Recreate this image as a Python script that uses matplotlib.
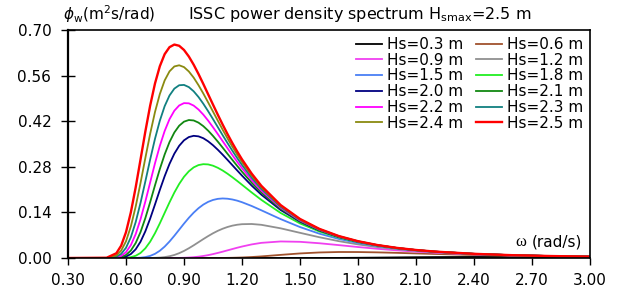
import matplotlib
matplotlib.use("Agg")
import matplotlib.pyplot as plt

plt.rcParams['font.family'] = ['DejaVu Sans']
plt.rcParams['mathtext.fontset'] = 'dejavusans'

omega = [0.30, 0.50, 0.55, 0.575, 0.60, 0.625, 0.65, 0.675, 0.70, 0.725, 0.75, 0.775,
         0.80, 0.825, 0.85, 0.875, 0.90, 0.925, 0.95, 0.975, 1.00, 1.025, 1.05, 1.075,
         1.10, 1.125, 1.15, 1.175, 1.20, 1.25, 1.30, 1.40, 1.50, 1.60, 1.70, 1.80,
         1.90, 2.00, 2.10, 2.20, 2.40, 2.60, 2.80, 3.00]

hs_labels = ["Hs=0.3 m", "Hs=0.6 m", "Hs=0.9 m", "Hs=1.2 m", "Hs=1.5 m", "Hs=1.8 m",
             "Hs=2.0 m", "Hs=2.1 m", "Hs=2.2 m", "Hs=2.3 m", "Hs=2.4 m", "Hs=2.5 m"]

s_03 = [0] * 33 + [0.0001, 0.0003, 0.0007, 0.0012, 0.0018, 0.0024, 0.0028, 0.0032,
                   0.0032, 0.0028, 0.0024]
s_06 = [0] * 23 + [0.0001, 0.0002, 0.0004, 0.0007, 0.0011, 0.0016,
                   0.0030, 0.0049, 0.0096, 0.0140, 0.0170, 0.0184, 0.0183, 0.0173,
                   0.0158, 0.0140, 0.0123, 0.0092, 0.0068, 0.0050, 0.0037]
s_09 = [0] * 14 + [0.0001, 0.0003, 0.0007, 0.0014, 0.0025, 0.0041, 0.0062, 0.0088,
                   0.0120, 0.0156, 0.0194, 0.0235, 0.0275, 0.0315, 0.0352,
                   0.0417, 0.0465, 0.0508, 0.0497, 0.0453, 0.0396, 0.0337, 0.0283,
                   0.0235, 0.0195, 0.0162, 0.0112, 0.0078, 0.0055, 0.0040]
s_12 = [0] * 10 + [0.0005, 0.0013, 0.0028, 0.0054, 0.0093, 0.0148, 0.0217, 0.0299,
                   0.0389, 0.0485, 0.0581, 0.0673, 0.0759, 0.0835, 0.0899, 0.0952,
                   0.0993, 0.1021, 0.1038,
                   0.1044, 0.1019, 0.0911, 0.0773, 0.0638, 0.0518, 0.0417, 0.0336,
                   0.0271, 0.0219, 0.0178, 0.0120, 0.0082, 0.0058, 0.0041]
s_15 = [0, 0, 0, 0, 0, 0, 0.0003, 0.0010, 0.0028, 0.0065, 0.0128, 0.0223, 0.0350,
        0.0506, 0.0682, 0.0869, 0.1056, 0.1233, 0.1392, 0.1529, 0.1640, 0.1724, 0.1782,
        0.1816, 0.1828, 0.1820, 0.1797, 0.1761, 0.1713,
        0.1597, 0.1465, 0.1194, 0.0950, 0.0747, 0.0586, 0.0461, 0.0364, 0.0289, 0.0231,
        0.0186, 0.0123, 0.0084, 0.0059, 0.0042]
s_18 = [0, 0, 0, 0.0001, 0.0007, 0.0025, 0.0068, 0.0154, 0.0297, 0.0501, 0.0762, 0.1064,
        0.1387, 0.1708, 0.2009, 0.2273, 0.2493, 0.2662, 0.2782, 0.2853, 0.2881, 0.2873,
        0.2834, 0.2769, 0.2686, 0.2588, 0.2480, 0.2366, 0.2249,
        0.2012, 0.1785, 0.1382, 0.1061, 0.0814, 0.0627, 0.0486, 0.0380, 0.0299, 0.0238,
        0.0191, 0.0125, 0.0085, 0.0059, 0.0042]
s_20 = [0, 0, 0.0002, 0.0012, 0.0044, 0.0121, 0.0267, 0.0499, 0.0819, 0.1210, 0.1645,
        0.2090, 0.2512, 0.2889, 0.3203, 0.3444, 0.3613, 0.3713, 0.3751, 0.3735, 0.3677,
        0.3582, 0.3462, 0.3323, 0.3172, 0.3013, 0.2851, 0.2689, 0.2529,
        0.2223, 0.1944, 0.1473, 0.1114, 0.0845, 0.0646, 0.0498, 0.0387, 0.0304, 0.0241,
        0.0193, 0.0126, 0.0085, 0.0059, 0.0042]
s_21 = [0, 0, 0.0007, 0.0030, 0.0093, 0.0228, 0.0459, 0.0794, 0.1224, 0.1716, 0.2232,
        0.2731, 0.3180, 0.3559, 0.3853, 0.4061, 0.4186, 0.4236, 0.4223, 0.4156, 0.4048,
        0.3909, 0.3748, 0.3572, 0.3388, 0.3200, 0.3013, 0.2828, 0.2649,
        0.2313, 0.2011, 0.1510, 0.1135, 0.0858, 0.0653, 0.0502, 0.0390, 0.0306, 0.0242,
        0.0193, 0.0127, 0.0086, 0.0059, 0.0042]
s_22 = [0, 0, 0.0018, 0.0064, 0.0178, 0.0394, 0.0732, 0.1188, 0.1733, 0.2322, 0.2909,
        0.3443, 0.3900, 0.4262, 0.4522, 0.4683, 0.4755, 0.4749, 0.4679, 0.4559, 0.4401,
        0.4217, 0.4015, 0.3803, 0.3587, 0.3371, 0.3160, 0.2955, 0.2758,
        0.2393, 0.2071, 0.1544, 0.1154, 0.0869, 0.0660, 0.0506, 0.0392, 0.0307, 0.0243,
        0.0194, 0.0127, 0.0086, 0.0059, 0.0042]
s_23 = [0, 0.0001, 0.0039, 0.0126, 0.0313, 0.0635, 0.1101, 0.1689, 0.2349, 0.3025, 0.3661,
        0.4215, 0.4662, 0.4989, 0.5200, 0.5304, 0.5314, 0.5247, 0.5118, 0.4943, 0.4735,
        0.4505, 0.4264, 0.4017, 0.3770, 0.3529, 0.3295, 0.3070, 0.2857,
        0.2466, 0.2124, 0.1573, 0.1171, 0.0878, 0.0665, 0.0510, 0.0395, 0.0309, 0.0244,
        0.0195, 0.0127, 0.0086, 0.0060, 0.0042]
s_24 = [0, 0.0003, 0.0078, 0.0226, 0.0513, 0.0967, 0.1577, 0.2300, 0.3068, 0.3815, 0.4483,
        0.5034, 0.5452, 0.5730, 0.5881, 0.5917, 0.5861, 0.5727, 0.5538, 0.5306, 0.5049,
        0.4775, 0.4495, 0.4215, 0.3939, 0.3673, 0.3418, 0.3176, 0.2947,
        0.2532, 0.2172, 0.1600, 0.1186, 0.0887, 0.0671, 0.0513, 0.0397, 0.0310, 0.0245,
        0.0195, 0.0128, 0.0086, 0.0060, 0.0042]
s_25 = [0, 0.0008, 0.0145, 0.0379, 0.0793, 0.1400, 0.2166, 0.3020, 0.3882, 0.4680, 0.5359,
        0.5888, 0.6259, 0.6473, 0.6553, 0.6516, 0.6387, 0.6186, 0.5935, 0.5649, 0.5342,
        0.5025, 0.4709, 0.4397, 0.4095, 0.3805, 0.3530, 0.3271, 0.3028,
        0.2591, 0.2216, 0.1624, 0.1199, 0.0895, 0.0675, 0.0516, 0.0398, 0.0311, 0.0246,
        0.0196, 0.0128, 0.0086, 0.0060, 0.0042]

series = [s_03, s_06, s_09, s_12, s_15, s_18, s_20, s_21, s_22, s_23, s_24, s_25]
colors = ['#000000', '#a0522d', '#f040f0', '#909090', '#4a7ff5', '#22ee22',
          '#000080', '#118811', '#ff00ff', '#118080', '#8a8a10', '#ff0000']

x_ticks = [0.30, 0.60, 0.90, 1.20, 1.50, 1.80, 2.10, 2.40, 2.70, 3.00]
y_ticks = [0.00, 0.14, 0.28, 0.42, 0.56, 0.70]

fig = plt.figure(figsize=(6.19, 2.92), dpi=100)
ax = fig.add_axes([68/619, 1-258/292, 522/619, 228/292])

lines = []
for s, c, lab in zip(series, colors, hs_labels):
    lw = 1.7 if c == '#ff0000' else 1.3
    ln, = ax.plot(omega, s, color=c, lw=lw, label=lab)
    lines.append(ln)

ax.set_xlim(0.30, 3.00)
ax.set_ylim(0.0, 0.70)
ax.set_xticks(x_ticks)
ax.set_xticklabels([f"{v:.2f}" for v in x_ticks])
ax.set_yticks(y_ticks)
ax.set_yticklabels([f"{v:.2f}" for v in y_ticks])
ax.tick_params(axis='x', direction='out', length=5, width=1, pad=6, labelsize=11)
ax.tick_params(axis='y', direction='inout', length=10, width=1, pad=7, labelsize=11)
for sp in ax.spines.values():
    sp.set_linewidth(1.2)
ax.spines['left'].set_linewidth(1.6)

# legend in row-major order (two columns)
order = [0, 2, 4, 6, 8, 10, 1, 3, 5, 7, 9, 11]
ax.legend([lines[i] for i in order], [hs_labels[i] for i in order], ncol=2,
          loc='upper right', bbox_to_anchor=(1.0, 1.0), frameon=False,
          fontsize=11, handlelength=1.7, handletextpad=0.35, columnspacing=0.8,
          labelspacing=0.05, borderaxespad=0.25, borderpad=0.2)

fig.text(63/619, 1-14/292, r'$\phi_{\mathrm{w}}$(m$^{2}$s/rad)', ha='left', va='center', fontsize=11)
fig.text(188/619, 1-14/292, r'ISSC power density spectrum H$_{\mathrm{smax}}$=2.5 m',
         ha='left', va='center', fontsize=11.5)
ax.text(0.878, 0.07, 'ω', transform=ax.transAxes, ha='right', va='center',
        fontsize=12, family=['Liberation Serif'])
ax.text(0.985, 0.07, '(rad/s)', transform=ax.transAxes, ha='right', va='center', fontsize=11)

fig.savefig('out.png', dpi=100)
